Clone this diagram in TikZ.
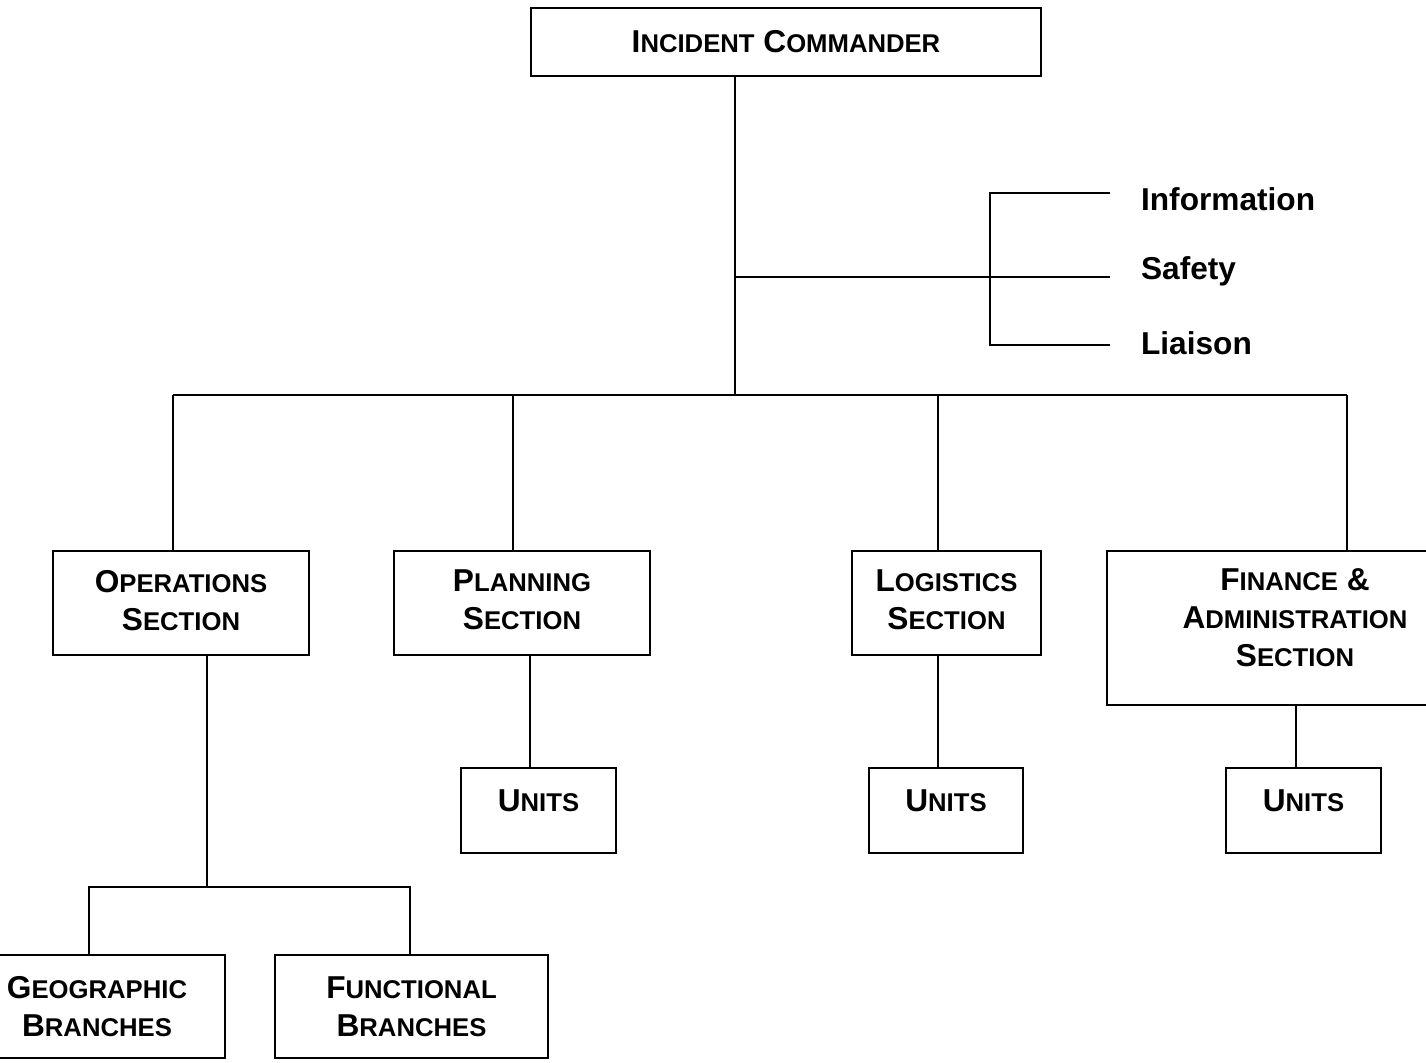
\documentclass[tikz,border=0pt]{standalone}
\usepackage{fontspec}
\setmainfont{Liberation Sans}
\newcommand{\sclet}[2]{#1{\fontsize{7.3pt}{10.8pt}\selectfont #2}}

\begin{document}
\begin{tikzpicture}[x=0.01cm, y=-0.01cm, line width=0.6pt,
    box/.style={draw, rectangle, align=center, inner sep=0pt, font=\fontsize{9pt}{10.8pt}\selectfont\bfseries},
    lifted/.style={text depth=#1}, lifted/.default=5.7pt,
    staffrole/.style={anchor=west, inner xsep=0.3cm, font=\fontsize{9pt}{10.8pt}\selectfont\bfseries}]
        \useasboundingbox (0,0) rectangle (1426,1062);
        % command
        \node[box, minimum width=5.1cm, minimum height=0.68cm] (ic) at (786, 42) {\sclet{I}{NCIDENT} \sclet{C}{OMMANDER}};
        % staff
        \node[staffrole] (info) at (1110, 199) {Information};
        \node[staffrole] (safety) at (1110, 271) {Safety};
        \node[staffrole] (liaison) at (1110, 343) {Liaison};
        % sections
        \node[box, lifted=1.7pt, minimum width=2.56cm, minimum height=1.04cm] (ops) at (181, 603) {\sclet{O}{PERATIONS}\\\sclet{S}{ECTION}};
        \node[box, lifted=1.7pt, minimum width=2.56cm, minimum height=1.04cm] (plan) at (522, 603) {\sclet{P}{LANNING}\\\sclet{S}{ECTION}};
        \node[box, lifted=1.7pt, minimum width=1.89cm, minimum height=1.04cm] (logi) at (946.5, 603) {\sclet{L}{OGISTICS}\\\sclet{S}{ECTION}};
        \node[box, lifted, minimum width=3.76cm, minimum height=1.54cm] (fin) at (1295, 628) {\sclet{F}{INANCE} \&\\\sclet{A}{DMINISTRATION}\\\sclet{S}{ECTION}};
        % units
        \node[box, lifted, minimum width=1.55cm, minimum height=0.85cm] (u1) at (538.5, 810.5) {\sclet{U}{NITS}};
        \node[box, lifted, minimum width=1.54cm, minimum height=0.85cm] (u2) at (946, 810.5) {\sclet{U}{NITS}};
        \node[box, lifted, minimum width=1.55cm, minimum height=0.85cm] (u3) at (1303.5, 810.5) {\sclet{U}{NITS}};
        % branches
        \node[box, minimum width=2.56cm, minimum height=1.03cm] (geo) at (97, 1006.5) {\sclet{G}{EOGRAPHIC}\\\sclet{B}{RANCHES}};
        \node[box, minimum width=2.73cm, minimum height=1.03cm] (func) at (411.5, 1006.5) {\sclet{F}{UNCTIONAL}\\\sclet{B}{RANCHES}};
        % connection points
        \coordinate (bus) at (735, 395);
        \coordinate (staff) at (735, 277);
        \coordinate (brk) at (990, 277);
        \coordinate (opstap) at (173, 395);
        \coordinate (plantap) at (513, 395);
        \coordinate (logtap) at (938, 395);
        \coordinate (fintap) at (1347, 395);
        \coordinate (planlink) at (530, 0);
        \coordinate (loglink) at (938, 0);
        \coordinate (finlink) at (1296, 0);
        \coordinate (opslink) at (207, 887);
        \coordinate (geotap) at (89, 887);
        \coordinate (functap) at (410, 887);
        \coordinate (infoend) at (1110, 193);
        \coordinate (liaisonend) at (1110, 345);
        % lines
        \draw (ic.south -| bus) to (bus);
        \draw (staff) to (staff -| safety.west);
        \draw (infoend) -| (brk) |- (liaisonend);
        \draw (opstap) to (fintap);
        \draw (opstap) to (opstap |- ops.north);
        \draw (plantap) to (plantap |- plan.north);
        \draw (logtap) to (logtap |- logi.north);
        \draw (fintap) to (fintap |- fin.north);
        \draw (plan.south -| planlink) to (u1.north -| planlink);
        \draw (logi.south -| loglink) to (u2.north -| loglink);
        \draw (fin.south -| finlink) to (u3.north -| finlink);
        \draw (ops.south -| opslink) to (opslink);
        \draw (geotap |- geo.north) -- (geotap) -- (functap) -- (functap |- func.north);
    \end{tikzpicture}
\end{document}
